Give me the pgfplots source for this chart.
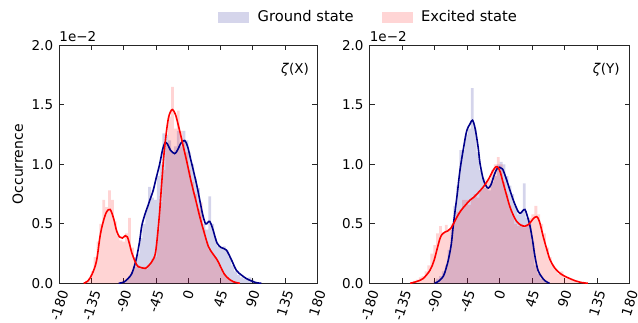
\documentclass[border=0pt]{standalone}
\usepackage{fontspec}
\setmainfont{DejaVu Sans}
\usepackage{graphicx}
\usepackage{pgfplots}
\pgfplotsset{compat=1.18}

\definecolor{gsline}{RGB}{0,0,139}
\definecolor{exline}{RGB}{255,0,0}
\definecolor{gslav}{RGB}{213,213,235}
\definecolor{expink}{RGB}{255,213,213}
\newcommand{\rl}[1]{\rotatebox{72}{#1}}

\pgfplotsset{
  base/.style={
    width=258pt, height=238pt, scale only axis,
    clip mode=individual,
    xmin=-180, xmax=180, ymin=0, ymax=2,
    xtick={-180,-135,-90,-45,0,45,90,135,180},
    xticklabels={\rl{-180},\rl{-135},\rl{-90},\rl{-45},\rl{0},\rl{45},\rl{90},\rl{135},\rl{180}},
    ytick={0,0.5,1,1.5,2},
    tick align=inside,
    major tick length=5pt,
    axis line style={black!85, line width=0.9pt},
    every tick/.style={black!85, line width=0.8pt},
    tick label style={font=\fontsize{13.5}{16}\selectfont},
    xticklabel style={anchor=north, inner sep=0pt, yshift=-6pt},
    yticklabel style={inner sep=0pt, xshift=-6pt, anchor=east,
      /pgf/number format/fixed, /pgf/number format/fixed zerofill,
      /pgf/number format/precision=1, /pgf/number format/assume math mode=true},
  },
  hgs/.style={const plot, draw=none, fill=gsline, fill opacity=0.17, forget plot},
  hex/.style={const plot, draw=none, fill=exline, fill opacity=0.17, forget plot},
  kgs/.style={gsline, line width=1.6pt, smooth, tension=0.55, forget plot},
  kex/.style={exline, line width=1.6pt, smooth, tension=0.55, forget plot},
}

\begin{document}
\begin{tikzpicture}
\begin{axis}[base, at={(0pt,0pt)}, anchor=south west,
  ylabel={Occurrence}, ylabel shift=5pt,
  ylabel style={font=\fontsize{14}{16}\selectfont},
  legend style={at={(1.199,1.119)}, anchor=center, draw=none, fill=none,
    font=\fontsize{14.7}{17}\selectfont, legend columns=2,
    /tikz/every odd column/.append style={column sep=7pt},
    /tikz/every even column/.append style={column sep=26pt}},
]
% Ground state X histogram
\addplot[hgs] coordinates {
(-96,0.01) (-92,0.02) (-88,0.03) (-84,0.06) (-80,0.10) (-76,0.14) (-72,0.25) (-68,0.38)
(-64,0.50) (-60,0.62) (-56,0.81) (-52,0.72) (-48,0.70) (-44,0.90) (-40,1.00) (-36,1.26)
(-32,1.25) (-28,1.20) (-24,1.10) (-20,1.15) (-16,1.28) (-12,1.15) (-8,1.28) (-4,1.20)
(0,1.10) (4,1.00) (8,0.88) (12,0.80) (16,0.62) (20,0.50) (24,0.45) (28,0.73) (32,0.50)
(36,0.38) (40,0.31) (44,0.30) (48,0.31) (52,0.28) (56,0.22) (60,0.15) (64,0.10) (68,0.07)
(72,0.05) (76,0.04) (80,0.03) (84,0.05) (88,0.03) (92,0.01) (96,0)
} \closedcycle;
% Excited state X histogram
\addplot[hex] coordinates {
(-144,0.02) (-140,0.04) (-136,0.10) (-132,0.22) (-128,0.35) (-124,0.50) (-120,0.70) (-116,0.64)
(-112,0.78) (-108,0.70) (-104,0.52) (-100,0.40) (-96,0.36) (-92,0.35) (-88,0.42) (-84,0.55)
(-80,0.30) (-76,0.22) (-72,0.15) (-68,0.12) (-64,0.14) (-60,0.12) (-56,0.15) (-52,0.20)
(-48,0.22) (-44,0.45) (-40,0.68) (-36,0.95) (-32,1.18) (-28,1.40) (-24,1.65) (-20,1.30)
(-16,1.45) (-12,1.28) (-8,1.20) (-4,1.10) (0,0.95) (4,0.85) (8,0.75) (12,0.62) (16,0.68)
(20,0.45) (24,0.35) (28,0.28) (32,0.25) (36,0.22) (40,0.18) (44,0.12) (48,0.08) (52,0.05)
(56,0.03) (60,0.02) (64,0.01) (68,0)
} \closedcycle;
\addplot[kgs] coordinates {
(-97,0) (-90,0.01) (-84,0.04) (-79,0.08) (-75,0.15) (-72,0.22) (-68,0.35) (-65,0.48) (-61,0.57)
(-57,0.64) (-53,0.71) (-49,0.78) (-45,0.88) (-40,1.0) (-36,1.12) (-32.5,1.18) (-29,1.17)
(-25,1.12) (-19,1.09) (-15,1.12) (-10,1.18) (-5,1.2) (-1,1.15) (3,1.05) (7,0.95) (12,0.82)
(16,0.70) (20,0.58) (24,0.5) (27,0.51) (30,0.52) (34,0.46) (40,0.34) (46,0.30) (53,0.28)
(60,0.2) (67,0.11) (74,0.07) (81,0.04) (88,0.02) (95,0.005) (102,0)
};
\addplot[kex] coordinates {
(-146,0) (-140,0.02) (-134,0.08) (-128,0.19) (-123,0.40) (-118.6,0.52) (-114,0.60) (-109,0.62)
(-104,0.54) (-100,0.44) (-96,0.39) (-92,0.38) (-88,0.40) (-85,0.39) (-82,0.33) (-79,0.26)
(-74,0.18) (-70,0.14) (-65,0.13) (-60,0.125) (-55,0.15) (-50,0.19) (-46,0.25) (-43,0.40)
(-40,0.60) (-37,0.85) (-34,1.08) (-31,1.25) (-28,1.38) (-25,1.44) (-22,1.46) (-18,1.42)
(-14,1.33) (-10,1.23) (-7,1.15) (-2,1.02) (3,0.88) (7,0.78) (12,0.66) (16,0.56) (22,0.43)
(28,0.31) (34,0.25) (40,0.20) (45,0.14) (50,0.08) (56,0.04) (63,0.013) (72,0)
};
\addlegendimage{legend image code/.code={\fill[gslav] (0pt,-5pt) rectangle (30pt,5pt);}}
\addlegendentry{Ground state}
\addlegendimage{legend image code/.code={\fill[expink] (0pt,-5pt) rectangle (30pt,5pt);}}
\addlegendentry{Excited state}
\node[anchor=south west, inner sep=0pt, yshift=3pt, font=\fontsize{13.5}{16}\selectfont] at (rel axis cs:0,1) {1e−2};
\node[anchor=east, inner sep=0pt, font=\fontsize{13.5}{16}\selectfont] at (rel axis cs:0.968,0.896) {\textit{ζ}(X)};
\end{axis}

\begin{axis}[base, at={(310.4pt,0pt)}, anchor=south west, width=260pt]
\addplot[hgs] coordinates {
(-92,0.02) (-88,0.04) (-84,0.06) (-80,0.10) (-76,0.15) (-72,0.28) (-68,0.45) (-64,0.65)
(-60,0.82) (-56,1.12) (-52,1.12) (-48,1.25) (-44,1.30) (-40,1.64) (-36,1.30) (-32,1.10)
(-28,0.95) (-24,0.88) (-20,0.80) (-16,0.78) (-12,0.85) (-8,0.90) (-4,1.00) (0,1.02)
(4,1.00) (8,0.90) (12,0.82) (16,0.75) (20,0.65) (24,0.58) (28,0.60) (32,0.84) (36,0.55)
(40,0.50) (44,0.35) (48,0.15) (52,0.08) (56,0.04) (60,0.02) (64,0)
} \closedcycle;
\addplot[hex] coordinates {
(-124,0.01) (-120,0.02) (-116,0.03) (-112,0.05) (-108,0.06) (-104,0.10) (-100,0.15) (-96,0.25)
(-92,0.32) (-88,0.42) (-84,0.48) (-80,0.43) (-76,0.49) (-72,0.45) (-68,0.50) (-64,0.55)
(-60,0.60) (-56,0.62) (-52,0.70) (-48,0.70) (-44,0.66) (-40,0.72) (-36,0.75) (-32,0.72)
(-28,0.78) (-24,0.80) (-20,0.85) (-16,0.88) (-12,0.95) (-8,1.00) (-4,1.06) (0,1.00)
(4,0.85) (8,0.75) (12,0.65) (16,0.58) (20,0.50) (24,0.48) (28,0.50) (32,0.47) (36,0.50)
(40,0.55) (44,0.58) (48,0.65) (52,0.58) (56,0.50) (60,0.42) (64,0.30) (68,0.22) (72,0.15)
(76,0.12) (80,0.08) (84,0.10) (88,0.06) (92,0.04) (96,0.03) (100,0.02) (104,0.01) (108,0)
} \closedcycle;
\addplot[kgs] coordinates {
(-90,0) (-84,0.02) (-78,0.06) (-74.5,0.12) (-71,0.2) (-67,0.33) (-64,0.5) (-59,0.74) (-55,0.95)
(-50,1.14) (-45.7,1.28) (-41,1.34) (-37.6,1.37) (-34,1.30) (-30,1.15) (-27.3,1.01) (-23,0.88)
(-19,0.82) (-15.8,0.80) (-12,0.83) (-7,0.92) (-3,0.97) (0,0.975) (4,0.96) (9,0.88) (14.3,0.78)
(20,0.68) (25.8,0.60) (29,0.59) (32,0.61) (35,0.62) (38,0.57) (42,0.48) (45.5,0.36) (49,0.22)
(53,0.11) (58,0.055) (63,0.02) (69,0)
};
\addplot[kex] coordinates {
(-124,0) (-115,0.015) (-106,0.04) (-96.5,0.11) (-91,0.19) (-87,0.28) (-83,0.37) (-80,0.41)
(-76,0.43) (-72,0.44) (-68,0.46) (-64,0.50) (-58,0.57) (-52.6,0.62) (-47,0.66) (-41,0.70)
(-36.5,0.72) (-30,0.76) (-22.7,0.81) (-15,0.88) (-9,0.95) (-5,0.98) (-2,0.97) (1,0.93)
(5,0.84) (10,0.73) (14.3,0.64) (19,0.57) (23.5,0.52) (29,0.49) (35,0.48) (41,0.50) (46,0.54)
(51,0.56) (55,0.52) (60.4,0.39) (65,0.29) (69.6,0.2) (76,0.13) (83.5,0.084) (90,0.06)
(97,0.04) (105,0.02) (112,0.008) (122,0)
};
\node[anchor=south west, inner sep=0pt, yshift=3pt, font=\fontsize{13.5}{16}\selectfont] at (rel axis cs:0,1) {1e−2};
\node[anchor=east, inner sep=0pt, font=\fontsize{13.5}{16}\selectfont] at (rel axis cs:0.962,0.896) {\textit{ζ}(Y)};
\end{axis}
\pgfresetboundingbox
\path[use as bounding box] (-59.3pt,-39.7pt) rectangle (578.7pt,283.3pt);
\end{tikzpicture}
\end{document}
